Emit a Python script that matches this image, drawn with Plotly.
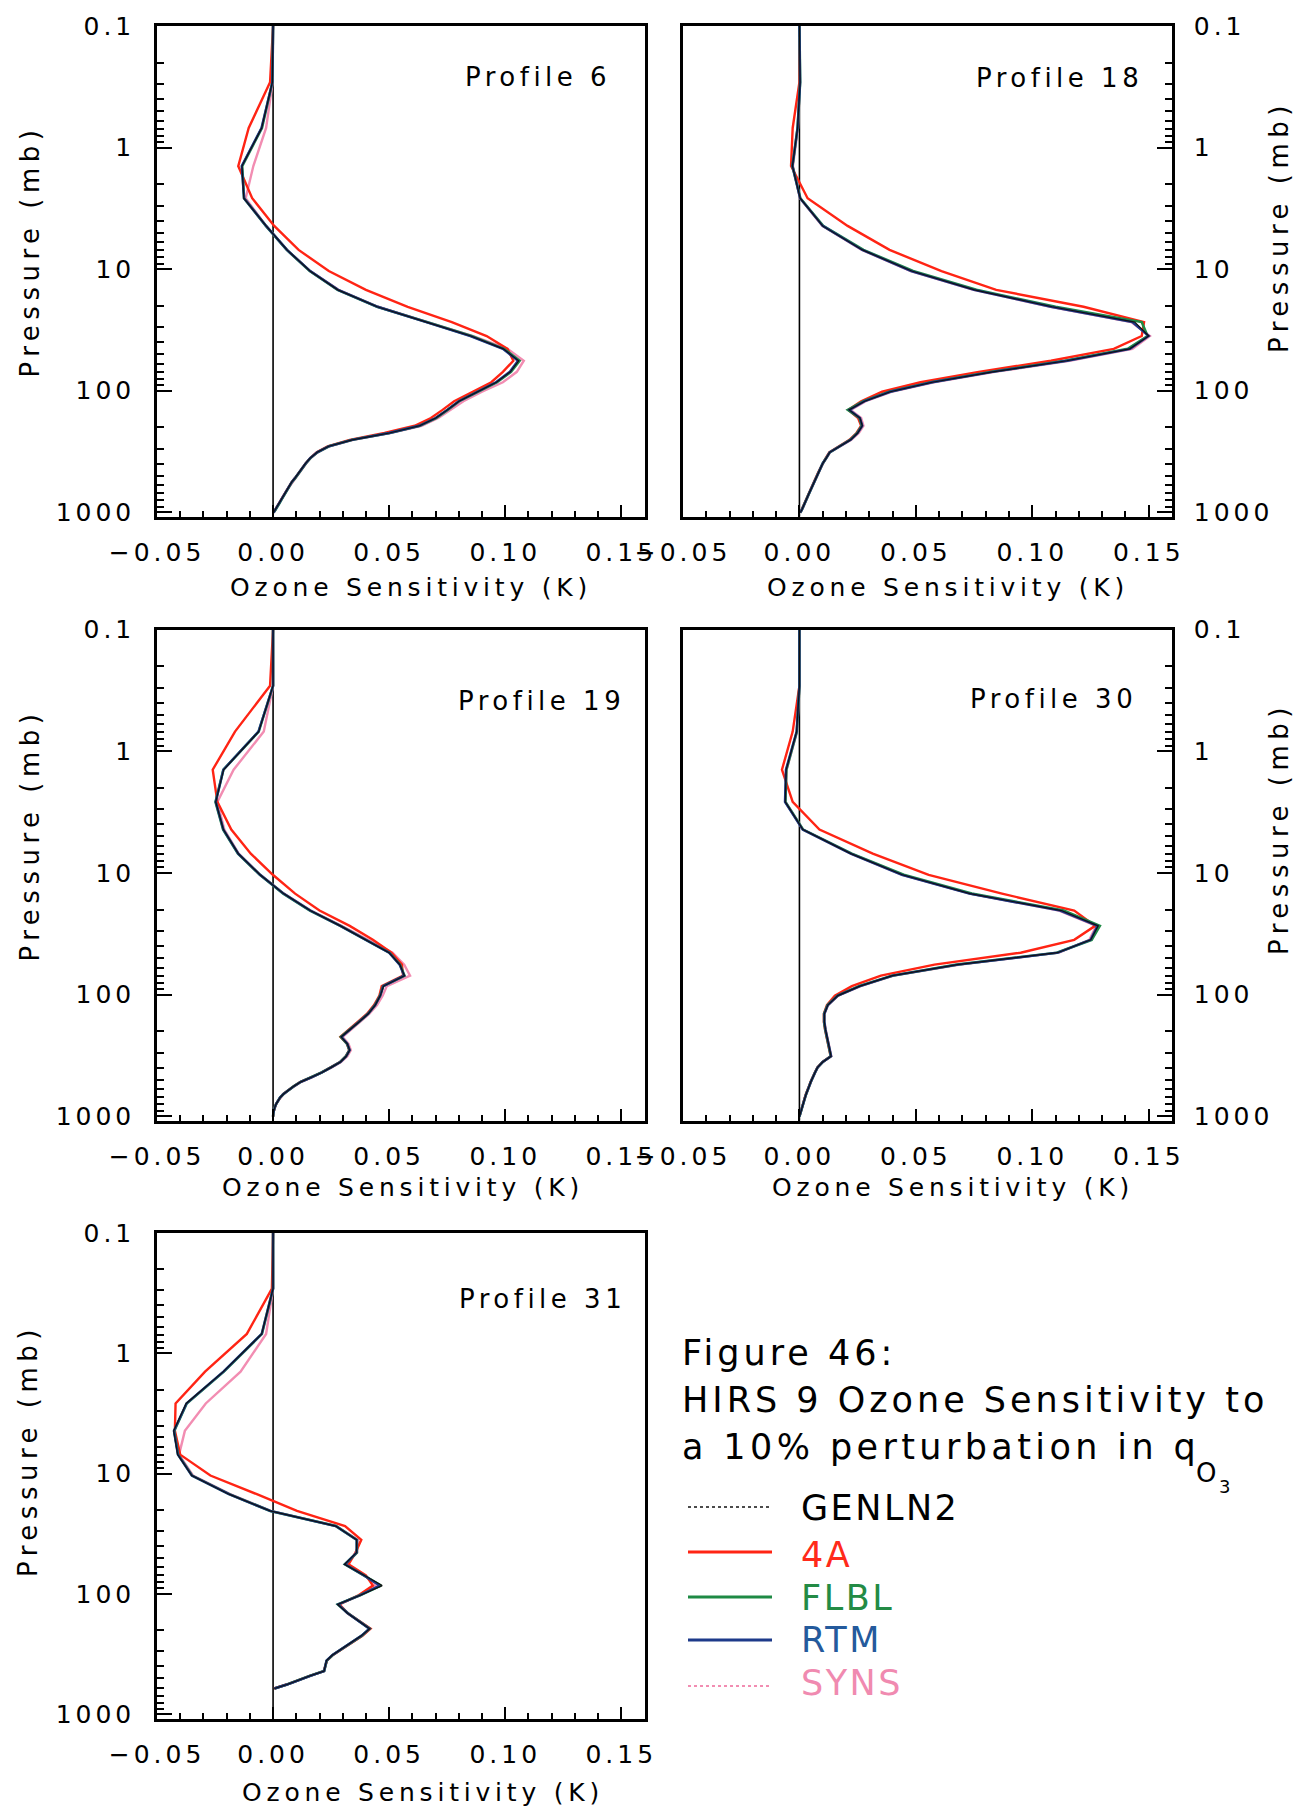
import plotly.graph_objects as go

W, H = 1310, 1815

# Pressure levels (mb) shared by all profiles
PRESSURE_MB = [0.1, 0.29, 0.69, 1.42, 2.61, 4.41, 6.95, 10.37, 14.81, 20.4, 27.26, 35.51,
               45.29, 56.73, 69.97, 85.18, 102.05, 122.04, 143.84, 167.95, 194.36, 222.94,
               253.71, 286.6, 321.5, 358.28, 396.81, 436.95, 478.54, 521.46, 565.54, 610.6,
               656.43, 702.73, 749.12, 795.09, 839.95, 882.8, 922.46, 957.44, 985.88, 1005.43]

# ---- Profile 6 (K) ----
P6_GENLN2 = [0.0, -0.0003, -0.0049, -0.0134, -0.0126, -0.0030, 0.0060, 0.0159, 0.0279, 0.0449, 0.0661, 0.0852, 0.0992, 0.1058, 0.1022, 0.0962, 0.0881, 0.0801, 0.0751, 0.0701, 0.0631, 0.0501, 0.0341, 0.0240, 0.0190, 0.0160, 0.0140, 0.0125, 0.0110, 0.0095, 0.0080, 0.0070, 0.0060, 0.0050, 0.0042, 0.0035, 0.0028, 0.0022, 0.0016, 0.0010, 0.0005, 0.0002]
P6_4A = [0.0, -0.0013, -0.0105, -0.0150, -0.0090, 0.0005, 0.0110, 0.0240, 0.0400, 0.0580, 0.0770, 0.0920, 0.1010, 0.1035, 0.0990, 0.0940, 0.0860, 0.0780, 0.0730, 0.0680, 0.0610, 0.0480, 0.0330, 0.0235, 0.0188, 0.0160, 0.0140, 0.0125, 0.0110, 0.0095, 0.0080, 0.0070, 0.0060, 0.0050, 0.0042, 0.0035, 0.0028, 0.0022, 0.0016, 0.0010, 0.0005, 0.0002]
P6_FLBL = [0.0, -0.0003, -0.0048, -0.0133, -0.0125, -0.0031, 0.0059, 0.0158, 0.0278, 0.0448, 0.0662, 0.0855, 0.0995, 0.1062, 0.1025, 0.0965, 0.0882, 0.0802, 0.0752, 0.0702, 0.0632, 0.0502, 0.0342, 0.0241, 0.0191, 0.0161, 0.0141, 0.0126, 0.0111, 0.0096, 0.0081, 0.0070, 0.0060, 0.0050, 0.0042, 0.0035, 0.0028, 0.0022, 0.0016, 0.0010, 0.0005, 0.0002]
P6_RTM = [0.0, -0.0003, -0.0050, -0.0135, -0.0125, -0.0030, 0.0060, 0.0160, 0.0280, 0.0450, 0.0660, 0.0850, 0.0990, 0.1055, 0.1020, 0.0960, 0.0880, 0.0800, 0.0750, 0.0700, 0.0630, 0.0500, 0.0340, 0.0240, 0.0190, 0.0160, 0.0140, 0.0125, 0.0110, 0.0095, 0.0080, 0.0070, 0.0060, 0.0050, 0.0042, 0.0035, 0.0028, 0.0022, 0.0016, 0.0010, 0.0005, 0.0002]
P6_SYNS = [0.0, -0.0002, -0.0030, -0.0085, -0.0118, -0.0030, 0.0060, 0.0160, 0.0282, 0.0452, 0.0665, 0.0862, 0.1010, 0.1080, 0.1050, 0.0990, 0.0900, 0.0820, 0.0765, 0.0712, 0.0640, 0.0505, 0.0345, 0.0243, 0.0192, 0.0162, 0.0142, 0.0126, 0.0111, 0.0096, 0.0081, 0.0070, 0.0060, 0.0050, 0.0042, 0.0035, 0.0028, 0.0022, 0.0016, 0.0010, 0.0005, 0.0002]

# ---- Profile 18 (K) ----
P18_GENLN2 = [0.0, 0.0003, -0.0008, -0.0030, 0.0003, 0.0100, 0.0271, 0.0482, 0.0752, 0.1085, 0.1440, 0.1500, 0.1418, 0.1148, 0.0830, 0.0570, 0.0390, 0.0280, 0.0213, 0.0260, 0.0270, 0.0250, 0.0220, 0.0175, 0.0130, 0.0115, 0.0100, 0.0090, 0.0080, 0.0070, 0.0062, 0.0055, 0.0048, 0.0041, 0.0035, 0.0030, 0.0025, 0.0020, 0.0015, 0.0010, 0.0006, 0.0003]
P18_4A = [0.0, 0.0000, -0.0029, -0.0036, 0.0035, 0.0207, 0.0387, 0.0610, 0.0845, 0.1220, 0.1480, 0.1470, 0.1350, 0.1080, 0.0770, 0.0520, 0.0355, 0.0265, 0.0210, 0.0252, 0.0265, 0.0245, 0.0215, 0.0170, 0.0128, 0.0113, 0.0099, 0.0089, 0.0079, 0.0069, 0.0061, 0.0054, 0.0047, 0.0040, 0.0035, 0.0030, 0.0025, 0.0020, 0.0015, 0.0010, 0.0006, 0.0003]
P18_FLBL = [0.0, 0.0003, -0.0008, -0.0030, 0.0004, 0.0102, 0.0275, 0.0488, 0.0760, 0.1100, 0.1470, 0.1495, 0.1410, 0.1140, 0.0825, 0.0565, 0.0385, 0.0275, 0.0208, 0.0258, 0.0268, 0.0248, 0.0218, 0.0174, 0.0130, 0.0115, 0.0100, 0.0090, 0.0080, 0.0070, 0.0062, 0.0055, 0.0048, 0.0041, 0.0035, 0.0030, 0.0025, 0.0020, 0.0015, 0.0010, 0.0006, 0.0003]
P18_RTM = [0.0, 0.0003, -0.0008, -0.0030, 0.0003, 0.0100, 0.0270, 0.0480, 0.0750, 0.1080, 0.1430, 0.1500, 0.1420, 0.1150, 0.0830, 0.0570, 0.0390, 0.0280, 0.0215, 0.0260, 0.0270, 0.0250, 0.0220, 0.0175, 0.0130, 0.0115, 0.0100, 0.0090, 0.0080, 0.0070, 0.0062, 0.0055, 0.0048, 0.0041, 0.0035, 0.0030, 0.0025, 0.0020, 0.0015, 0.0010, 0.0006, 0.0003]
P18_SYNS = [0.0, 0.0002, -0.0006, -0.0028, 0.0002, 0.0098, 0.0268, 0.0478, 0.0748, 0.1078, 0.1425, 0.1505, 0.1430, 0.1160, 0.0840, 0.0578, 0.0395, 0.0285, 0.0220, 0.0265, 0.0275, 0.0255, 0.0223, 0.0178, 0.0132, 0.0116, 0.0101, 0.0091, 0.0081, 0.0071, 0.0063, 0.0055, 0.0048, 0.0041, 0.0035, 0.0030, 0.0025, 0.0020, 0.0015, 0.0010, 0.0006, 0.0003]

# ---- Profile 19 (K) ----
P19_GENLN2 = [0.0, 0.0000, -0.0062, -0.0213, -0.0247, -0.0214, -0.0150, -0.0056, 0.0045, 0.0160, 0.0290, 0.0400, 0.0500, 0.0546, 0.0566, 0.0476, 0.0462, 0.0440, 0.0410, 0.0370, 0.0330, 0.0293, 0.0320, 0.0330, 0.0315, 0.0290, 0.0250, 0.0210, 0.0165, 0.0120, 0.0090, 0.0065, 0.0045, 0.0030, 0.0020, 0.0013, 0.0008, 0.0004, 0.0002, 0.0001, 0.0000, 0.0000]
P19_4A = [0.0, -0.0013, -0.0164, -0.0260, -0.0240, -0.0180, -0.0096, -0.0001, 0.0095, 0.0200, 0.0330, 0.0430, 0.0510, 0.0555, 0.0560, 0.0468, 0.0458, 0.0435, 0.0405, 0.0365, 0.0325, 0.0290, 0.0318, 0.0328, 0.0313, 0.0288, 0.0248, 0.0208, 0.0163, 0.0118, 0.0089, 0.0064, 0.0044, 0.0030, 0.0020, 0.0013, 0.0008, 0.0004, 0.0002, 0.0001, 0.0000, 0.0000]
P19_FLBL = [0.0, 0.0000, -0.0062, -0.0214, -0.0248, -0.0215, -0.0151, -0.0057, 0.0044, 0.0159, 0.0290, 0.0401, 0.0501, 0.0547, 0.0566, 0.0474, 0.0461, 0.0439, 0.0409, 0.0369, 0.0329, 0.0292, 0.0319, 0.0329, 0.0314, 0.0289, 0.0249, 0.0209, 0.0164, 0.0119, 0.0090, 0.0065, 0.0045, 0.0030, 0.0020, 0.0013, 0.0008, 0.0004, 0.0002, 0.0001, 0.0000, 0.0000]
P19_RTM = [0.0, 0.0000, -0.0063, -0.0214, -0.0247, -0.0214, -0.0150, -0.0056, 0.0045, 0.0160, 0.0290, 0.0400, 0.0500, 0.0545, 0.0565, 0.0475, 0.0462, 0.0440, 0.0410, 0.0370, 0.0330, 0.0295, 0.0320, 0.0330, 0.0315, 0.0290, 0.0250, 0.0210, 0.0165, 0.0120, 0.0090, 0.0065, 0.0045, 0.0030, 0.0020, 0.0013, 0.0008, 0.0004, 0.0002, 0.0001, 0.0000, 0.0000]
P19_SYNS = [0.0, 0.0000, -0.0040, -0.0170, -0.0240, -0.0210, -0.0148, -0.0055, 0.0047, 0.0163, 0.0295, 0.0410, 0.0515, 0.0565, 0.0590, 0.0490, 0.0472, 0.0448, 0.0415, 0.0375, 0.0335, 0.0300, 0.0325, 0.0335, 0.0320, 0.0293, 0.0253, 0.0212, 0.0167, 0.0122, 0.0091, 0.0066, 0.0046, 0.0031, 0.0021, 0.0013, 0.0008, 0.0004, 0.0002, 0.0001, 0.0000, 0.0000]

# ---- Profile 30 (K) ----
P30_GENLN2 = [0.0, 0.0000, -0.0012, -0.0057, -0.0061, 0.0015, 0.0221, 0.0442, 0.0733, 0.1125, 0.1283, 0.1251, 0.1108, 0.0678, 0.0399, 0.0259, 0.0165, 0.0122, 0.0107, 0.0107, 0.0112, 0.0118, 0.0123, 0.0130, 0.0136, 0.0100, 0.0078, 0.0067, 0.0056, 0.0049, 0.0042, 0.0034, 0.0029, 0.0024, 0.0020, 0.0016, 0.0013, 0.0009, 0.0005, 0.0004, 0.0002, 0.0000]
P30_4A = [0.0, 0.0000, -0.0029, -0.0075, -0.0029, 0.0086, 0.0315, 0.0555, 0.0870, 0.1180, 0.1270, 0.1180, 0.0950, 0.0580, 0.0350, 0.0225, 0.0152, 0.0118, 0.0105, 0.0105, 0.0110, 0.0116, 0.0121, 0.0128, 0.0134, 0.0099, 0.0077, 0.0066, 0.0055, 0.0048, 0.0041, 0.0033, 0.0028, 0.0023, 0.0019, 0.0015, 0.0012, 0.0008, 0.0005, 0.0003, 0.0001, 0.0000]
P30_FLBL = [0.0, 0.0000, -0.0011, -0.0056, -0.0060, 0.0016, 0.0225, 0.0448, 0.0740, 0.1135, 0.1290, 0.1255, 0.1105, 0.0675, 0.0398, 0.0258, 0.0164, 0.0121, 0.0106, 0.0106, 0.0111, 0.0117, 0.0122, 0.0129, 0.0135, 0.0100, 0.0078, 0.0067, 0.0056, 0.0049, 0.0042, 0.0034, 0.0029, 0.0024, 0.0020, 0.0016, 0.0013, 0.0009, 0.0005, 0.0004, 0.0002, 0.0000]
P30_RTM = [0.0, 0.0000, -0.0012, -0.0058, -0.0062, 0.0014, 0.0220, 0.0440, 0.0730, 0.1120, 0.1280, 0.1250, 0.1110, 0.0680, 0.0400, 0.0260, 0.0165, 0.0122, 0.0107, 0.0107, 0.0112, 0.0118, 0.0123, 0.0130, 0.0136, 0.0100, 0.0078, 0.0067, 0.0056, 0.0049, 0.0042, 0.0034, 0.0029, 0.0024, 0.0020, 0.0016, 0.0013, 0.0009, 0.0005, 0.0004, 0.0002, 0.0000]
P30_SYNS = [0.0, 0.0000, -0.0010, -0.0055, -0.0060, 0.0015, 0.0222, 0.0442, 0.0732, 0.1115, 0.1275, 0.1245, 0.1115, 0.0690, 0.0405, 0.0263, 0.0167, 0.0123, 0.0108, 0.0108, 0.0113, 0.0119, 0.0124, 0.0131, 0.0137, 0.0101, 0.0079, 0.0068, 0.0057, 0.0050, 0.0043, 0.0035, 0.0029, 0.0024, 0.0020, 0.0016, 0.0013, 0.0009, 0.0005, 0.0004, 0.0002, 0.0000]

# ---- Profile 31 (K); surface near 620 mb ----
P31_GENLN2 = [0.0, 0.0000, -0.0049, -0.0214, -0.0374, -0.0428, -0.0411, -0.0350, -0.0190, -0.0013, 0.0270, 0.0360, 0.0360, 0.0308, 0.0392, 0.0470, 0.0378, 0.0278, 0.0320, 0.0370, 0.0416, 0.0380, 0.0337, 0.0295, 0.0256, 0.0230, 0.0225, 0.0220, 0.0160, 0.0110, 0.0060, 0.0006, None, None, None, None, None, None, None, None, None, None]
P31_4A = [0.0, -0.0005, -0.0113, -0.0293, -0.0420, -0.0423, -0.0400, -0.0270, -0.0070, 0.0103, 0.0310, 0.0380, 0.0355, 0.0325, 0.0400, 0.0430, 0.0370, 0.0285, 0.0320, 0.0372, 0.0420, 0.0385, 0.0340, 0.0298, 0.0258, 0.0232, 0.0226, 0.0218, 0.0158, 0.0108, 0.0058, 0.0004, None, None, None, None, None, None, None, None, None, None]
P31_FLBL = [0.0, 0.0000, -0.0048, -0.0212, -0.0372, -0.0426, -0.0409, -0.0349, -0.0189, -0.0012, 0.0271, 0.0361, 0.0361, 0.0309, 0.0391, 0.0465, 0.0377, 0.0279, 0.0321, 0.0371, 0.0416, 0.0381, 0.0338, 0.0296, 0.0257, 0.0231, 0.0225, 0.0220, 0.0160, 0.0110, 0.0060, 0.0006, None, None, None, None, None, None, None, None, None, None]
P31_RTM = [0.0, 0.0000, -0.0049, -0.0214, -0.0373, -0.0427, -0.0410, -0.0350, -0.0190, -0.0013, 0.0270, 0.0360, 0.0360, 0.0310, 0.0390, 0.0460, 0.0377, 0.0280, 0.0320, 0.0370, 0.0415, 0.0380, 0.0337, 0.0295, 0.0256, 0.0230, 0.0225, 0.0220, 0.0160, 0.0110, 0.0060, 0.0006, None, None, None, None, None, None, None, None, None, None]
P31_SYNS = [0.0, 0.0000, -0.0030, -0.0140, -0.0290, -0.0380, -0.0405, -0.0345, -0.0185, -0.0010, 0.0272, 0.0365, 0.0362, 0.0315, 0.0395, 0.0445, 0.0378, 0.0285, 0.0322, 0.0373, 0.0418, 0.0383, 0.0340, 0.0298, 0.0258, 0.0232, 0.0226, 0.0220, 0.0160, 0.0110, 0.0060, 0.0006, None, None, None, None, None, None, None, None, None, None]

PROFILE_NAMES = ["Profile 6", "Profile 18", "Profile 19", "Profile 30", "Profile 31"]
PROFILE_SERIES = [
    {"GENLN2": P6_GENLN2, "4A": P6_4A, "FLBL": P6_FLBL, "RTM": P6_RTM, "SYNS": P6_SYNS},
    {"GENLN2": P18_GENLN2, "4A": P18_4A, "FLBL": P18_FLBL, "RTM": P18_RTM, "SYNS": P18_SYNS},
    {"GENLN2": P19_GENLN2, "4A": P19_4A, "FLBL": P19_FLBL, "RTM": P19_RTM, "SYNS": P19_SYNS},
    {"GENLN2": P30_GENLN2, "4A": P30_4A, "FLBL": P30_FLBL, "RTM": P30_RTM, "SYNS": P30_SYNS},
    {"GENLN2": P31_GENLN2, "4A": P31_4A, "FLBL": P31_FLBL, "RTM": P31_RTM, "SYNS": P31_SYNS},
]

MODELS = ["GENLN2", "4A", "FLBL", "RTM", "SYNS"]
X_TICKS = [-0.05, 0.0, 0.05, 0.10, 0.15]
X_TICK_TEXT = ["\u22120.05", "0.00", "0.05", "0.10", "0.15"]
P_TICKS = [0.1, 1, 10, 100, 1000]
P_TICK_TEXT = ["0.1", "1", "10", "100", "1000"]

# ---- styling ----
FONT = "DejaVu Sans"
COLORS = {"GENLN2": "#111111", "4A": "#ff2414", "FLBL": "#1e8a44", "RTM": "#1d3a8a", "SYNS": "#f28db2"}
TEXT_COLORS = {"GENLN2": "#000000", "4A": "#ff2a1a", "FLBL": "#238b45", "RTM": "#245a9c", "SYNS": "#f08ab0"}
WIDTHS = {"GENLN2": 1.2, "4A": 2.4, "FLBL": 2.6, "RTM": 2.4, "SYNS": 2.4}
DRAW_ORDER = ["SYNS", "4A", "FLBL", "RTM", "GENLN2"]

# panel boxes in pixels: (left, right, top, bottom)
BOXES = [(157, 644.5, 26, 516.5), (683, 1172, 26, 516.5),
         (157, 644.5, 629.5, 1120.5), (683, 1172, 629.5, 1120.5),
         (157, 644.5, 1233, 1718.5)]
SIDES = ["left", "right", "left", "right", "left"]
NAME_POS = [(608, 77), (1140, 78), (622, 701), (1134, 699), (623, 1299)]
YTITLE_POS = [(29.5, 251), (1279, 227), (29.5, 835), (1279, 829), (28, 1451)]
XTITLE_POS = [(411, 587), (948, 587), (403, 1187), (953, 1187), (423, 1792.5)]

SMALL = 25
SPACING = 4


def spaced(text, sp=SPACING):
    return f'<span style="letter-spacing:{sp}px">{text}</span>'


def fx(px):
    return px / W


def fy(py):
    return 1 - py / H


fig = go.Figure()
minor_p = [m * 10 ** e for e in range(-1, 3) for m in range(2, 10)]

for i, (name, series) in enumerate(zip(PROFILE_NAMES, PROFILE_SERIES), start=1):
    suffix = "" if i == 1 else str(i)
    xa, ya = "x" + suffix, "y" + suffix
    for model in DRAW_ORDER:
        fig.add_trace(go.Scatter(
            x=series[model], y=PRESSURE_MB, mode="lines", name=model,
            line=dict(color=COLORS[model], width=WIDTHS[model]),
            xaxis=xa, yaxis=ya, hoverinfo="skip", showlegend=False,
        ))

    l, r, t, b = BOXES[i - 1]
    side = SIDES[i - 1]
    fig.layout["xaxis" + suffix] = dict(
        domain=[fx(l), fx(r)], range=[-0.05, 0.16], anchor=ya, automargin=False,
        showline=True, linecolor="black", linewidth=2.5, mirror=True,
        ticks="inside", ticklen=12, tickwidth=2, tickcolor="black",
        tickvals=X_TICKS, ticktext=[spaced(s) for s in X_TICK_TEXT],
        tickfont=dict(family=FONT, size=SMALL, color="black"),
        ticklabelstandoff=12,
        minor=dict(ticks="inside", ticklen=6, tickwidth=1.5, tickcolor="black",
                   tick0=0, dtick=0.01, showgrid=False),
        showgrid=False, zeroline=False, fixedrange=True,
    )
    fig.layout["yaxis" + suffix] = dict(
        domain=[fy(b), fy(t)], type="log", range=[3.035, -1], anchor=xa, side=side,
        automargin=False,
        showline=True, linecolor="black", linewidth=2.5, mirror=True,
        ticks="inside", ticklen=15, tickwidth=2, tickcolor="black",
        tickvals=P_TICKS, ticktext=[spaced(s) for s in P_TICK_TEXT],
        tickfont=dict(family=FONT, size=SMALL, color="black"),
        ticklabelstandoff=14,
        minor=dict(ticks="inside", ticklen=7, tickwidth=1.5, tickcolor="black",
                   tickvals=minor_p, showgrid=False),
        showgrid=False, zeroline=False, fixedrange=True,
    )

    # zero-sensitivity reference line
    fig.add_shape(type="line", xref=xa, yref=ya + " domain", x0=0, x1=0, y0=0, y1=1,
                  line=dict(color="black", width=1.6), layer="below")

    nx, ny = NAME_POS[i - 1]
    fig.add_annotation(x=fx(nx + 4.5), y=fy(ny), xref="paper", yref="paper",
                       text=spaced(name, 4.5), showarrow=False, xanchor="right", yanchor="middle",
                       font=dict(family=FONT, size=26, color="black"))
    tx, ty = YTITLE_POS[i - 1]
    fig.add_annotation(x=fx(tx), y=fy(ty), xref="paper", yref="paper",
                       text=spaced("Pressure (mb)", 5.5), showarrow=False, textangle=-90,
                       xanchor="center", yanchor="middle",
                       font=dict(family=FONT, size=26, color="black"))
    bx, by = XTITLE_POS[i - 1]
    fig.add_annotation(x=fx(bx), y=fy(by), xref="paper", yref="paper",
                       text=spaced("Ozone Sensitivity (K)", 4.8), showarrow=False,
                       xanchor="center", yanchor="middle",
                       font=dict(family=FONT, size=SMALL, color="black"))

# ---- caption ----
BIG = 35
CAPTION = ["Figure 46:", "HIRS 9 Ozone Sensitivity to", "a 10% perturbation in q"]
CAPTION_Y = [1353, 1400, 1447]
CAPTION_SP = [4, 4, 4.4]
for line, cy, sp in zip(CAPTION, CAPTION_Y, CAPTION_SP):
    fig.add_annotation(x=fx(679.5), y=fy(cy), xref="paper", yref="paper",
                       text=spaced(line, sp), showarrow=False, xanchor="left", yanchor="middle",
                       font=dict(family=FONT, size=BIG, color="black"))
fig.add_annotation(x=fx(1206), y=fy(1473), xref="paper", yref="paper", text="O",
                   showarrow=False, xanchor="center", yanchor="middle",
                   font=dict(family=FONT, size=26, color="black"))
fig.add_annotation(x=fx(1224), y=fy(1486), xref="paper", yref="paper", text="3",
                   showarrow=False, xanchor="center", yanchor="middle",
                   font=dict(family=FONT, size=18, color="black"))

# ---- legend ----
LEG_LINE_Y = [1507, 1552, 1597, 1640, 1686]
LEG_TEXT_Y = [1508, 1555, 1598, 1640, 1683]
LEG_LINE_W = {"GENLN2": 1.5, "4A": 3, "FLBL": 3, "RTM": 3, "SYNS": 2}
for model, ly, ty in zip(MODELS, LEG_LINE_Y, LEG_TEXT_Y):
    fig.add_shape(type="line", xref="paper", yref="paper",
                  x0=fx(688), x1=fx(772), y0=fy(ly), y1=fy(ly),
                  line=dict(color=COLORS[model], width=LEG_LINE_W[model],
                            dash="dot" if model in ("GENLN2", "SYNS") else "solid"))
    fig.add_annotation(x=fx(799.4), y=fy(ty), xref="paper", yref="paper",
                       text=spaced(model, 2.5), showarrow=False, xanchor="left", yanchor="middle",
                       font=dict(family=FONT, size=BIG, color=TEXT_COLORS[model]))

fig.update_layout(
    width=W, height=H, margin=dict(l=0, r=0, t=0, b=0, pad=0),
    paper_bgcolor="white", plot_bgcolor="white", showlegend=False,
    font=dict(family=FONT, color="black"),
)

fig.write_html("out.html")
